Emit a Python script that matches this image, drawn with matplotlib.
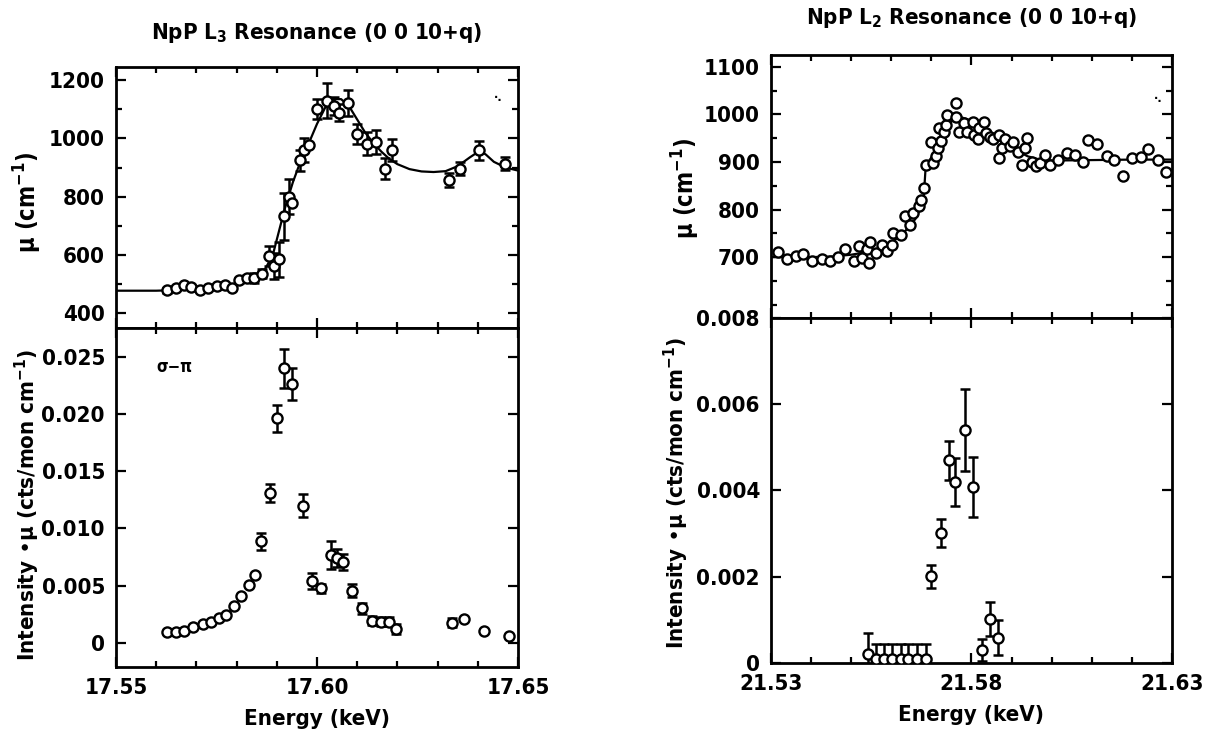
import matplotlib
matplotlib.use("Agg")
import matplotlib.pyplot as plt
import numpy as np
from matplotlib.ticker import FixedLocator, FuncFormatter, MultipleLocator

# ---- L3 edge, absorption (top left) ----
l3_mu_e = [17.5626, 17.5650, 17.5668, 17.5686, 17.5710, 17.5730, 17.5751, 17.5770, 17.5788,
           17.5807, 17.5826, 17.5844, 17.5863, 17.5880, 17.5892, 17.5905, 17.5917, 17.5930,
           17.5938, 17.5957, 17.5967, 17.5980, 17.6000, 17.6026, 17.6042, 17.6055, 17.6076,
           17.6100, 17.6125, 17.6146, 17.6170, 17.6187, 17.6329, 17.6356, 17.6404, 17.6468]
l3_mu = [479, 487, 498, 489, 479, 488, 494, 496, 487,
         513, 522, 522, 536, 598, 564, 586, 733, 801,
         779, 925, 960, 976, 1101, 1129, 1112, 1089, 1123,
         1016, 982, 988, 897, 960, 858, 897, 960, 914]
l3_mu_err = [8, 8, 0, 0, 0, 6, 6, 6, 0,
             8, 10, 18, 15, 35, 45, 60, 80, 60,
             0, 35, 40, 0, 35, 60, 30, 30, 45,
             35, 40, 40, 35, 38, 25, 22, 33, 22]
l3_fit_e = [17.550, 17.560, 17.565, 17.570, 17.575, 17.580, 17.584, 17.587, 17.589, 17.5905,
            17.592, 17.594, 17.596, 17.598, 17.600, 17.602, 17.604, 17.606, 17.608, 17.610,
            17.612, 17.614, 17.616, 17.618, 17.620, 17.623, 17.626, 17.629, 17.632, 17.635,
            17.638, 17.6405, 17.642, 17.644, 17.647, 17.650]
l3_fit = [478, 478, 480, 484, 490, 502, 520, 550, 600, 680,
          760, 850, 925, 985, 1050, 1105, 1135, 1135, 1110, 1065,
          1020, 985, 955, 930, 912, 895, 887, 885, 888, 905,
          935, 958, 945, 920, 900, 890]

# ---- L3 edge, sigma-pi intensity (bottom left) ----
l3_int_e = [17.5627, 17.5650, 17.5670, 17.5691, 17.5716, 17.5737, 17.5756, 17.5774, 17.5793,
            17.5812, 17.5831, 17.5845, 17.5860, 17.5882, 17.5901, 17.5918, 17.5938, 17.5965,
            17.5988, 17.6011, 17.6035, 17.6049, 17.6065, 17.6086, 17.6113, 17.6138, 17.6160,
            17.6179, 17.6197, 17.6337, 17.6366, 17.6416, 17.6478]
l3_int = [0.00094, 0.00094, 0.00108, 0.00137, 0.00166, 0.00186, 0.00216, 0.00245, 0.0032,
          0.0041, 0.0051, 0.0059, 0.00886, 0.0131, 0.0196, 0.0240, 0.0226, 0.0120,
          0.00545, 0.00478, 0.0077, 0.0074, 0.0071, 0.00457, 0.00303, 0.00195, 0.00186,
          0.00186, 0.00122, 0.00175, 0.0021, 0.00108, 0.00064]
l3_int_err = [0, 0, 0, 0, 0, 0, 0, 0, 0,
              0, 0, 0, 0.0007, 0.0008, 0.0012, 0.0017, 0.0014, 0.0010,
              0.0007, 0.0004, 0.0012, 0.0008, 0.0007, 0.0006, 0.0005, 0.0004, 0.0004,
              0.0004, 0.0004, 0.0004, 0, 0, 0]

# ---- L2 edge, absorption (top right) ----
l2_mu_e = [21.5318, 21.5341, 21.5362, 21.5381, 21.5403, 21.5426, 21.5447, 21.5467, 21.5484,
           21.5507, 21.5519, 21.5527, 21.5540, 21.5546, 21.5544, 21.5563, 21.5578, 21.5589,
           21.5603, 21.5605, 21.5623, 21.5634, 21.5646, 21.5655, 21.5669, 21.5673, 21.5681,
           21.5686, 21.5698, 21.5703, 21.5711, 21.5717, 21.5719, 21.5725, 21.5732, 21.5736,
           21.5740, 21.5761, 21.5761, 21.5769, 21.5782, 21.5790, 21.5803, 21.5807, 21.5815,
           21.5819, 21.5830, 21.5835, 21.5846, 21.5854, 21.5868, 21.5868, 21.5876, 21.5884,
           21.5896, 21.5903, 21.5917, 21.5925, 21.5933, 21.5939, 21.5950, 21.5962, 21.5970,
           21.5983, 21.5995, 21.6016, 21.6037, 21.6058, 21.6077, 21.6091, 21.6114, 21.6137,
           21.6156, 21.6177, 21.6200, 21.6222, 21.6241, 21.6266, 21.6285]
l2_mu = [710, 695, 703, 707, 691, 696, 691, 700, 716,
         691, 724, 698, 717, 731, 688, 709, 726, 712,
         726, 751, 747, 787, 768, 793, 807, 821, 845,
         894, 941, 898, 913, 929, 971, 945, 962, 978,
         999, 1024, 994, 964, 982, 964, 985, 957, 948,
         971, 985, 961, 952, 948, 957, 908, 929, 948,
         933, 943, 922, 894, 929, 950, 901, 891, 898,
         915, 894, 905, 919, 915, 901, 947, 938, 913,
         905, 870, 908, 910, 927, 905, 878]
l2_fit_e = [21.530, 21.540, 21.545, 21.550, 21.555, 21.560, 21.563, 21.566, 21.568, 21.5685,
            21.569, 21.571, 21.573, 21.575, 21.577, 21.579, 21.582, 21.585, 21.588, 21.591,
            21.594, 21.597, 21.600, 21.610, 21.620, 21.630]
l2_fit = [700, 700, 701, 705, 712, 730, 750, 780, 815, 880,
          895, 925, 960, 985, 995, 990, 970, 955, 940, 925,
          912, 905, 903, 904, 905, 905]

# ---- L2 edge, intensity (bottom right) ----
l2_int_e = [21.5541, 21.5562, 21.5583, 21.5603, 21.5625, 21.5642, 21.5663, 21.5686,
            21.5698, 21.5723, 21.5743, 21.5758, 21.5783, 21.5804, 21.5825, 21.5846, 21.5867]
l2_int = [0.0002, 0.0001, 0.0001, 0.0001, 0.0001, 0.0001, 0.0001, 0.0001,
          0.00201, 0.00302, 0.0047, 0.0042, 0.0054, 0.00408, 0.0003, 0.00102, 0.00059]
l2_int_err = [0.0005, 0.00035, 0.00035, 0.00035, 0.00035, 0.00035, 0.00035, 0.00035,
              0.00027, 0.00032, 0.00045, 0.00055, 0.00095, 0.0007, 0.00025, 0.0004, 0.0004]

L3_MU_TICKS = [400, 600, 800, 1000, 1200]
L2_MU_TICKS = [700, 800, 900, 1000, 1100]

TITLE_L3 = "NpP L$_3$ Resonance (0 0 10+q)"
TITLE_L2 = "NpP L$_2$ Resonance (0 0 10+q)"
MU_LABEL = "\u03bc (cm$^{-1}$)"
INT_LABEL = "Intensity \u2022\u03bc (cts/mon cm$^{-1}$)"
X_LABEL = "Energy (keV)"

plt.rcParams["font.family"] = ["DejaVu Sans"]
plt.rcParams["font.stretch"] = "condensed"
plt.rcParams["font.weight"] = "bold"
plt.rcParams["axes.titleweight"] = "bold"
plt.rcParams["axes.labelweight"] = "bold"
plt.rcParams["mathtext.default"] = "regular"


def zero_or_fixed(v, p):
    return "0" if abs(v) < 1e-9 else f"{v:.3f}"


def style_axes(ax, xmin, xmax, major_step):
    ax.set_xlim(xmin, xmax)
    ax.xaxis.set_major_locator(FixedLocator([xmin, xmin + major_step, xmax]))
    ax.xaxis.set_minor_locator(MultipleLocator(0.01))
    ax.xaxis.set_major_formatter(FuncFormatter(lambda v, p: f"{v:.2f}"))
    ax.tick_params(which="both", direction="in", top=True, right=True, width=1.6)
    ax.tick_params(which="major", length=7, labelsize=16, pad=8)
    ax.tick_params(which="minor", length=4)
    for spine in ax.spines.values():
        spine.set_linewidth(2.0)


def draw_points(ax, x, y, err, size=7.3):
    x = np.asarray(x)
    y = np.asarray(y)
    err = np.asarray(err)
    has_err = err > 0
    ax.errorbar(x[has_err], y[has_err], yerr=err[has_err], fmt="none", ecolor="black",
                elinewidth=1.8, capsize=3.5, capthick=1.8, zorder=2)
    ax.plot(x, y, "o", ms=size, mfc="white", mec="black", mew=1.7, zorder=3)


def main() -> None:
    fig = plt.figure(figsize=(12.06, 7.45), dpi=100)
    ax_l3_mu = fig.add_axes([0.0962, 0.5597, 0.3333, 0.3503])
    ax_l3_int = fig.add_axes([0.0962, 0.1047, 0.3333, 0.4550])
    ax_l2_mu = fig.add_axes([0.6393, 0.5732, 0.3325, 0.3530])
    ax_l2_int = fig.add_axes([0.6393, 0.1101, 0.3325, 0.4631])

    # left column
    ax_l3_mu.plot(l3_fit_e, l3_fit, color="black", lw=1.6, zorder=1)
    draw_points(ax_l3_mu, l3_mu_e, l3_mu, l3_mu_err)
    style_axes(ax_l3_mu, 17.55, 17.65, 0.05)
    ax_l3_mu.set_ylim(350, 1245)
    ax_l3_mu.yaxis.set_major_locator(FixedLocator(L3_MU_TICKS))
    ax_l3_mu.yaxis.set_minor_locator(MultipleLocator(100))
    ax_l3_mu.tick_params(labelbottom=False)
    ax_l3_mu.set_ylabel(MU_LABEL, fontsize=17)
    ax_l3_mu.yaxis.set_label_coords(-0.18, 0.48)
    ax_l3_mu.set_title(TITLE_L3, fontsize=16, pad=20)
    ax_l3_mu.text(0.94, 0.87, "\u00b7.", transform=ax_l3_mu.transAxes, fontsize=9)

    draw_points(ax_l3_int, l3_int_e, l3_int, l3_int_err)
    style_axes(ax_l3_int, 17.55, 17.65, 0.05)
    ax_l3_int.set_ylim(-0.0021, 0.0275)
    ax_l3_int.yaxis.set_major_locator(MultipleLocator(0.005))
    ax_l3_int.yaxis.set_major_formatter(FuncFormatter(zero_or_fixed))
    ax_l3_int.set_ylabel(INT_LABEL, fontsize=16)
    ax_l3_int.yaxis.set_label_coords(-0.185, 0.478)
    ax_l3_int.set_xlabel(X_LABEL, fontsize=16, labelpad=8)
    ax_l3_int.text(0.1, 0.885, "\u03c3\u2212\u03c0", transform=ax_l3_int.transAxes,
                   fontsize=12, va="center")

    # right column
    ax_l2_mu.plot(l2_fit_e, l2_fit, color="black", lw=1.6, zorder=1)
    draw_points(ax_l2_mu, l2_mu_e, l2_mu, [0] * len(l2_mu))
    style_axes(ax_l2_mu, 21.53, 21.63, 0.05)
    ax_l2_mu.set_ylim(572, 1125)
    ax_l2_mu.yaxis.set_major_locator(FixedLocator(L2_MU_TICKS))
    ax_l2_mu.yaxis.set_minor_locator(MultipleLocator(50))
    ax_l2_mu.tick_params(labelbottom=False)
    ax_l2_mu.set_ylabel(MU_LABEL, fontsize=17)
    ax_l2_mu.yaxis.set_label_coords(-0.172, 0.494)
    ax_l2_mu.set_title(TITLE_L2, fontsize=16, pad=22)
    ax_l2_mu.text(0.955, 0.82, "\u00b7.", transform=ax_l2_mu.transAxes, fontsize=9)

    draw_points(ax_l2_int, l2_int_e, l2_int, l2_int_err)
    style_axes(ax_l2_int, 21.53, 21.63, 0.05)
    ax_l2_int.set_ylim(0, 0.008)
    ax_l2_int.yaxis.set_major_locator(MultipleLocator(0.002))
    ax_l2_int.yaxis.set_major_formatter(FuncFormatter(zero_or_fixed))
    ax_l2_int.set_ylabel(INT_LABEL, fontsize=16)
    ax_l2_int.yaxis.set_label_coords(-0.2, 0.493)
    ax_l2_int.set_xlabel(X_LABEL, fontsize=16, labelpad=8)

    fig.savefig("out.png", dpi=100)
    plt.close(fig)


if __name__ == "__main__":
    main()
